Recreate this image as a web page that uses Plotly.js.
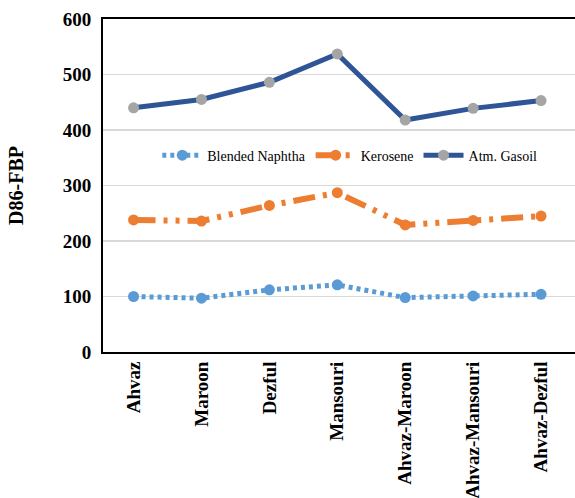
<!DOCTYPE html>
<html><head><meta charset="utf-8">
<script src="https://cdn.plot.ly/plotly-3.0.1.min.js"></script>
<style>body{margin:0;padding:0;background:#fff}#chart{width:575px;height:498px}</style>
</head><body><div id="chart"></div>
<script>
const categories = ["Ahvaz","Maroon","Dezful","Mansouri","Ahvaz-Maroon","Ahvaz-Mansouri","Ahvaz-Dezful"];
const blendedNaphtha = [100, 97, 112, 121, 98, 101, 104];
const kerosene = [238, 236, 264, 287, 229, 237, 245];
const atmGasoil = [440, 455, 486, 537, 418, 439, 453];
const yTicks = [0,100,200,300,400,500,600];

const traces = [
  {x: categories, y: blendedNaphtha, name: "Blended Naphtha", type: "scatter", mode: "lines+markers",
   line: {color: "#5b9bd5", width: 5, dash: "4px,4px"},
   marker: {color: "#5b9bd5", size: 11, symbol: "circle"}},
  {x: categories, y: kerosene, name: "Kerosene", type: "scatter", mode: "lines+markers",
   line: {color: "#ed7d31", width: 6, dash: "22px,8px,4px,8px,4px,8px"},
   marker: {color: "#ed7d31", size: 11, symbol: "circle"}},
  {x: categories, y: atmGasoil, name: "Atm. Gasoil", type: "scatter", mode: "lines+markers",
   line: {color: "#2f5597", width: 5},
   marker: {color: "#a5a5a5", size: 11, symbol: "circle"}}
];

const layout = {
  width: 575, height: 498,
  margin: {l: 103, r: 0, t: 19, b: 146},
  paper_bgcolor: "#fff", plot_bgcolor: "#fff",
  font: {family: "Liberation Serif", color: "#000"},
  showlegend: true,
  legend: {orientation: "h", x: 0.115, y: 0.59, xanchor: "left", yanchor: "middle",
    bgcolor: "rgba(0,0,0,0)", font: {size: 14, family: "Liberation Serif", color: "#000"},
    itemwidth: 40, tracegroupgap: 0},
  xaxis: {type: "category", range: [-0.45, 6.5], tickangle: -90,
    showline: true, linecolor: "#000", linewidth: 2, mirror: true,
    showgrid: false, ticks: "", zeroline: false,
    tickfont: {size: 19, family: "Liberation Serif", weight: "bold", color: "#000"}},
  yaxis: {range: [0, 600], tickvals: yTicks, ticktext: yTicks.map(String),
    showline: true, linecolor: "#000", linewidth: 2, mirror: false,
    showgrid: true, gridcolor: "#d9d9d9", gridwidth: 1.5, zeroline: false, ticks: "",
    ticklabelstandoff: 6,
    tickfont: {size: 19, family: "Liberation Serif", weight: "bold", color: "#000"},
    title: {text: "<b>D86-FBP</b>", standoff: 34, font: {size: 20, family: "Liberation Serif", color: "#000"}}}
};
Plotly.newPlot("chart", traces, layout, {displayModeBar: false, staticPlot: true});
</script></body></html>
